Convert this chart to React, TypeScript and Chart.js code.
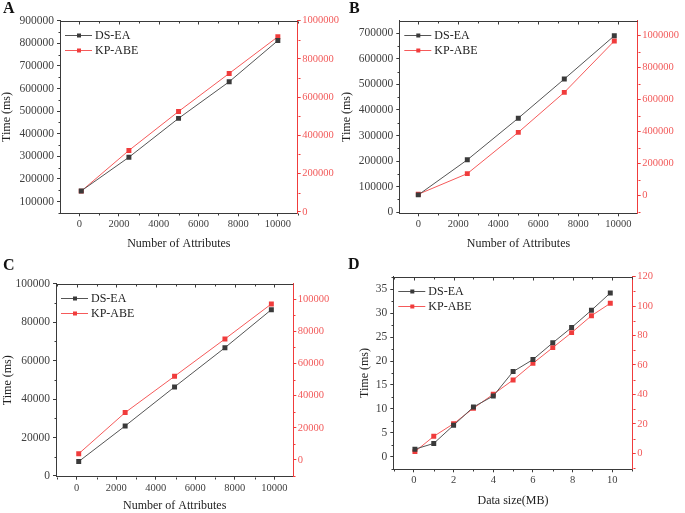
import React, { useEffect, useRef } from "react";
import { Chart, registerables } from "chart.js";
Chart.register(...registerables);

const FONT = '"Liberation Serif", "Times New Roman", serif';

// ---------- data ----------
// Panel A
const aX = [100, 2500, 5000, 7550, 10000];
const aDS = [147000, 296000, 468000, 630000, 812000];
const aKP = [108000, 321000, 525000, 724000, 916000];
// Panel B
const bX = [0, 2450, 5000, 7300, 9800];
const bDS = [68000, 205000, 368000, 521000, 690000];
const bKP = [9000, 138000, 396000, 646000, 967000];
// Panel C
const cX = [100, 2450, 4950, 7500, 9850];
const cDS = [7500, 26000, 46300, 66700, 86500];
const cKP = [3900, 29500, 52100, 75300, 97100];
// Panel D
const dX = [0.05, 1, 2, 3, 4, 5, 6, 7, 7.95, 8.95, 9.9];
const dDS = [1.6, 2.8, 6.6, 10.4, 12.7, 17.8, 20.3, 23.8, 27.0, 30.6, 34.2];
const dKP = [1.1, 11.5, 20.1, 30.6, 40.1, 49.8, 61.1, 71.8, 82.0, 93.5, 101.9];

const SERIES_NAMES = ["DS-EA", "KP-ABE"];
const X_TITLES = ["Number of Attributes", "Number of Attributes", "Number of Attributes", "Data size(MB)"];
const Y_TITLE = "Time (ms)";
const LETTERS = ["A", "B", "C", "D"];

// ---------- styles ----------
const DARK = "#3a3a3a";
const DARK_LINE = "#555555";
const RED = "#f03c3c";
const RED_LINE = "#f55a5a";
const RED_TEXT = "#f25a5a";
const TICK_TEXT = "#404040";

type Rng = { min: number; max: number; step: number };
type Cfg = {
  left: number; top: number; w: number; h: number;
  plot: { l: number; r: number; t: number; b: number };
  x: Rng; yL: Rng; yR: Rng;
  xs: number[]; ds: number[]; kp: number[];
  xTitle: string; yTitlePad: number; xTitlePad: number; letter: string;
};

const panels: Cfg[] = [
  {
    left: 0, top: 0, w: 345, h: 256,
    plot: { l: 60, r: 297.7, t: 20.7, b: 213.3 },
    x: { min: -970, max: 11000, step: 2000 },
    yL: { min: 48000, max: 900000, step: 100000 },
    yR: { min: -8000, max: 1000000, step: 200000 },
    xs: aX, ds: aDS, kp: aKP, xTitle: X_TITLES[0], yTitlePad: 0, xTitlePad: 4.8, letter: LETTERS[0],
  },
  {
    left: 340, top: 0, w: 345, h: 256,
    plot: { l: 59.3, r: 297.7, t: 20.7, b: 213.3 },
    x: { min: -950, max: 10970, step: 2000 },
    yL: { min: -4000, max: 749000, step: 100000 },
    yR: { min: -110000, max: 1094000, step: 200000 },
    xs: bX, ds: bDS, kp: bKP, xTitle: X_TITLES[1], yTitlePad: 0, xTitlePad: 4.8, letter: LETTERS[1],
  },
  {
    left: 0, top: 256, w: 345, h: 257,
    plot: { l: 56, r: 293.3, t: 27.7, b: 220.7 },
    x: { min: -1050, max: 10960, step: 2000 },
    yL: { min: -400, max: 100000, step: 20000 },
    yR: { min: -10400, max: 109700, step: 20000 },
    xs: cX, ds: cDS, kp: cKP, xTitle: X_TITLES[2], yTitlePad: 1, xTitlePad: 0, letter: LETTERS[2],
  },
  {
    left: 340, top: 256, w: 345, h: 257,
    plot: { l: 53.3, r: 292.7, t: 20.7, b: 213.3 },
    x: { min: -1.04, max: 11.03, step: 2 },
    yL: { min: -2.6, max: 37.6, step: 5 },
    yR: { min: -10.9, max: 120, step: 20 },
    xs: dX, ds: dDS, kp: dKP, xTitle: X_TITLES[3], yTitlePad: 18, xTitlePad: 4.8, letter: LETTERS[3],
  },
];

function makeTicks(r: Rng) {
  const out: { value: number }[] = [];
  const start = Math.ceil(r.min / r.step - 1e-9);
  for (let k = start; k * r.step <= r.max + 1e-9; k++) out.push({ value: Math.round(k * r.step * 1e6) / 1e6 });
  return out;
}

function minorValues(r: Rng) {
  const out: number[] = [];
  const start = Math.floor(r.min / r.step) * r.step - r.step / 2;
  for (let v = start; v <= r.max + 1e-9; v += r.step) if (v >= r.min - 1e-9) out.push(v);
  return out;
}

const innerLegend = {
  id: "innerLegend",
  afterDraw(chart: any) {
    const { ctx, chartArea: a } = chart;
    ctx.save();
    ctx.font = `12px ${FONT}`;
    ctx.textBaseline = "middle";
    ctx.textAlign = "left";
    chart.data.datasets.forEach((ds: any, i: number) => {
      const y = Math.round(a.top + 14 + i * 15.5) + 0.5;
      const x0 = a.left + 5;
      ctx.strokeStyle = ds.borderColor;
      ctx.lineWidth = 1;
      ctx.beginPath();
      ctx.moveTo(x0, y);
      ctx.lineTo(x0 + 27, y);
      ctx.stroke();
      ctx.fillStyle = ds.pointBackgroundColor;
      ctx.fillRect(x0 + 12, y - 2, 4, 4);
      ctx.fillStyle = "#222";
      ctx.fillText(ds.label, x0 + 30, y + 0.5);
    });
    ctx.restore();
  },
};

const framePlugin = {
  id: "frame",
  afterDraw(chart: any, _args: any, opts: any) {
    const { ctx, chartArea: a, scales } = chart;
    const cfg: Cfg = opts.cfg;
    const al = (v: number) => Math.round(v) + 0.5;
    const seg = (x1: number, y1: number, x2: number, y2: number) => {
      ctx.beginPath();
      ctx.moveTo(x1, y1);
      ctx.lineTo(x2, y2);
      ctx.stroke();
    };
    ctx.save();
    ctx.lineWidth = 1;
    ctx.strokeStyle = DARK;
    // top border
    seg(a.left, al(a.top), a.right, al(a.top));
    const xs = scales.x, yl = scales.y, yr = scales.y2;
    makeTicks(cfg.x).forEach((t) => {
      const px = al(xs.getPixelForValue(t.value));
      seg(px, al(a.top), px, al(a.top) + 3);
    });
    minorValues(cfg.x).forEach((v) => {
      const px = al(xs.getPixelForValue(v));
      seg(px, al(a.top), px, al(a.top) + 2);
      seg(px, al(a.bottom), px, al(a.bottom) + 2);
    });
    minorValues(cfg.yL).forEach((v) => {
      const py = al(yl.getPixelForValue(v));
      seg(al(a.left), py, al(a.left) - 2, py);
    });
    ctx.strokeStyle = RED;
    minorValues(cfg.yR).forEach((v) => {
      const py = al(yr.getPixelForValue(v));
      seg(al(a.right), py, al(a.right) + 2, py);
    });
    ctx.restore();
  },
};

function axis(pos: string, r: Rng, size: number, color: string, textColor: string, fontSize: number, padding: number, title?: any) {
  return {
    type: "linear",
    position: pos,
    min: r.min,
    max: r.max,
    bounds: "data",
    afterBuildTicks: (s: any) => {
      s.ticks = makeTicks(r);
    },
    afterFit: (s: any) => {
      if (pos === "bottom") s.height = size;
      else s.width = size;
    },
    grid: { drawOnChartArea: false, drawTicks: true, tickLength: 3, tickColor: color, tickWidth: 1 },
    border: { display: true, color, width: 1 },
    ticks: {
      color: textColor,
      font: { family: FONT, size: fontSize },
      padding,
      maxRotation: 0,
      autoSkip: false,
      callback: (v: any) => String(v),
    },
    title: title || { display: false },
  };
}

function buildConfig(cfg: Cfg): any {
  const p = cfg.plot;
  return {
    type: "line",
    data: {
      datasets: [
        {
          label: SERIES_NAMES[0],
          data: cfg.xs.map((x, i) => ({ x, y: cfg.ds[i] })),
          yAxisID: "y",
          borderColor: DARK_LINE,
          borderWidth: 1,
          pointStyle: "rect",
          pointRadius: 3.5,
          pointBackgroundColor: DARK,
          pointBorderColor: DARK,
          pointBorderWidth: 0,
          tension: 0,
        },
        {
          label: SERIES_NAMES[1],
          data: cfg.xs.map((x, i) => ({ x, y: cfg.kp[i] })),
          yAxisID: "y2",
          borderColor: RED_LINE,
          borderWidth: 1,
          pointStyle: "rect",
          pointRadius: 3.5,
          pointBackgroundColor: RED,
          pointBorderColor: RED,
          pointBorderWidth: 0,
          tension: 0,
        },
      ],
    },
    options: {
      animation: false,
      responsive: false,
      devicePixelRatio: 1,
      layout: { padding: { left: 0, right: 0, top: p.t, bottom: 0 } },
      plugins: {
        legend: { display: false },
        tooltip: { enabled: false },
        frame: { cfg },
      },
      scales: {
        x: axis("bottom", cfg.x, cfg.h - p.b, DARK, TICK_TEXT, 10.5, 2, {
          display: true,
          text: cfg.xTitle,
          color: "#222",
          font: { family: FONT, size: 12 },
          padding: { top: 0, bottom: cfg.xTitlePad },
        }),
        y: axis("left", cfg.yL, p.l, DARK, TICK_TEXT, 11.5, 3, {
          display: true,
          text: Y_TITLE,
          color: "#222",
          font: { family: FONT, size: 12 },
          padding: { top: cfg.yTitlePad, bottom: 0 },
        }),
        y2: axis("right", cfg.yR, cfg.w - p.r, RED, RED_TEXT, 10.5, 1.5),
      },
    },
    plugins: [framePlugin, innerLegend],
  };
}

function Panel({ cfg }: { cfg: Cfg }) {
  const ref = useRef<HTMLCanvasElement>(null);
  useEffect(() => {
    const chart = new Chart(ref.current as HTMLCanvasElement, buildConfig(cfg));
    return () => chart.destroy();
  }, []);
  return (
    <canvas
      ref={ref}
      width={cfg.w}
      height={cfg.h}
      style={{ position: "absolute", left: cfg.left, top: cfg.top, width: cfg.w, height: cfg.h }}
    />
  );
}

export default function App() {
  const letterPos = [
    { left: 3, top: 0 },
    { left: 349, top: 0 },
    { left: 3, top: 256.5 },
    { left: 348, top: 256 },
  ];
  return (
    <div style={{ position: "absolute", left: 0, top: 0, width: 685, height: 513, background: "#fff", overflow: "hidden" }}>
      {panels.map((p, i) => (
        <Panel key={i} cfg={p} />
      ))}
      {panels.map((p, i) => (
        <div
          key={"l" + i}
          style={{
            position: "absolute",
            left: letterPos[i].left,
            top: letterPos[i].top,
            font: `bold 16px ${FONT}`,
            lineHeight: "16px",
            color: "#111",
          }}
        >
          {p.letter}
        </div>
      ))}
    </div>
  );
}
